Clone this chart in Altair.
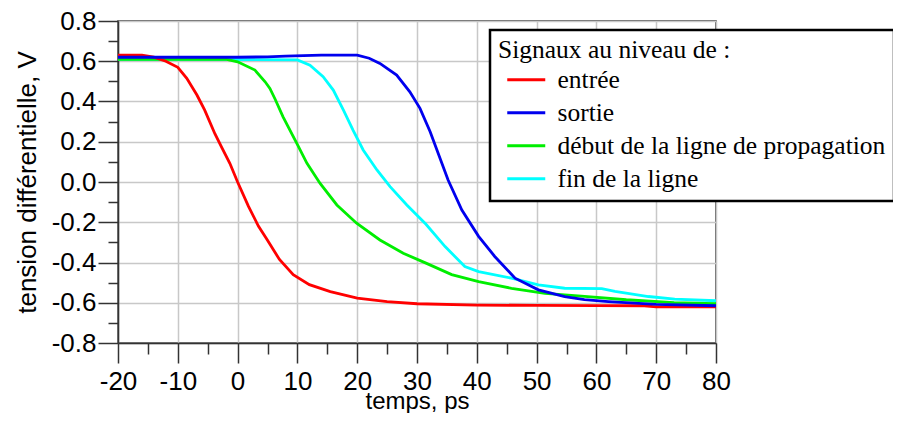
import altair as alt
import pandas as pd

series_names = ["entrée", "sortie", "début de la ligne de propagation", "fin de la ligne"]
series_colors = ["#ff0000", "#0000ee", "#00ee00", "#00ffff"]
legend_title = "Signaux au niveau de :" + "\u00a0" * 30

# entrée (red)
t_entree = [-20, -16, -14, -12, -10, -8.5, -6.8, -5.5, -3.8, -2.7, -1.3, 0, 1.8, 3.5, 5, 7,
            9.3, 12, 15.5, 20, 25, 30, 40, 50, 60, 68, 70, 80]
v_entree = [0.63, 0.63, 0.62, 0.60, 0.57, 0.515, 0.432, 0.357, 0.24, 0.175, 0.093, 0.0, -0.12,
            -0.22, -0.29, -0.385, -0.46, -0.51, -0.545, -0.577, -0.594, -0.605, -0.612, -0.613,
            -0.614, -0.615, -0.62, -0.62]

# sortie (blue)
t_sortie = [-20, 0, 5, 8, 14, 20, 22, 23.8, 26.6, 28.8, 30.5, 32.2, 35.2, 37.5, 40.3, 43,
            46.4, 50.3, 54.7, 58, 62, 70, 80]
v_sortie = [0.62, 0.62, 0.622, 0.625, 0.63, 0.63, 0.615, 0.589, 0.531, 0.448, 0.366, 0.25,
            0.01, -0.139, -0.27, -0.37, -0.478, -0.536, -0.569, -0.585, -0.594, -0.608, -0.615]

# début de la ligne de propagation (green)
t_debut = [-20, -2, 0, 2.9, 4.6, 5.4, 6.3, 7.6, 9.9, 11.6, 13.8, 16.6, 19.9, 23.8, 27.7, 31.5,
           35.8, 40.3, 45.8, 51.4, 58, 65, 73, 80]
v_debut = [0.61, 0.61, 0.597, 0.556, 0.498, 0.465, 0.41, 0.324, 0.192, 0.093, -0.007, -0.114,
           -0.205, -0.288, -0.354, -0.403, -0.46, -0.495, -0.528, -0.553, -0.568, -0.585,
           -0.599, -0.605]

# fin de la ligne (cyan)
t_fin = [-20, 10, 12.1, 14.3, 16, 17.7, 19.3, 21, 23.3, 25.5, 28.3, 31.5, 34.7, 38, 40.3,
         45.8, 50.3, 54.7, 60.9, 63.1, 68.7, 73.1, 80]
v_fin = [0.61, 0.607, 0.58, 0.523, 0.457, 0.357, 0.258, 0.159, 0.06, -0.023, -0.114, -0.21,
         -0.321, -0.42, -0.445, -0.478, -0.511, -0.528, -0.53, -0.544, -0.569, -0.582, -0.59]

x_ticks = [-20, -15, -10, -5, 0, 5, 10, 15, 20, 25, 30, 35, 40, 45, 50, 55, 60, 65, 70, 75, 80]
y_ticks = [-0.8, -0.7, -0.6, -0.5, -0.4, -0.3, -0.2, -0.1, 0.0, 0.1, 0.2, 0.3, 0.4, 0.5, 0.6,
           0.7, 0.8]

series_data = {
    "fin de la ligne": (t_fin, v_fin),
    "début de la ligne de propagation": (t_debut, v_debut),
    "entrée": (t_entree, v_entree),
    "sortie": (t_sortie, v_sortie),
}
rows = []
for name, (ts, vs) in series_data.items():
    for t, v in zip(ts, vs):
        rows.append({"serie": name, "t": t, "v": v})
df = pd.DataFrame(rows)

x_major = "datum.value % 10 === 0"
y_major = "round(datum.value * 10) % 2 === 0"

x_axis = alt.Axis(
    values=x_ticks,
    title="temps, ps",
    labelExpr=f"{x_major} ? (datum.value < 0 ? '-' : '') + abs(datum.value) : ''",
    tickSize={"condition": {"test": x_major, "value": 20}, "value": 11},
    gridOpacity={"condition": {"test": x_major, "value": 1}, "value": 0},
    labelFlush=False,
    labelOverlap=False,
    labelPadding=5,
    titlePadding=-5,
    titleFontSize=24,
)
y_axis = alt.Axis(
    values=y_ticks,
    title="tension différentielle, V",
    labelExpr=f"{y_major} ? (datum.value < -0.001 ? '-' : '') + format(abs(datum.value), '.1f') : ''",
    tickSize={"condition": {"test": y_major, "value": 20}, "value": 10},
    gridOpacity={"condition": {"test": y_major, "value": 1}, "value": 0},
    labelOverlap=False,
    labelPadding=2,
    titlePadding=11,
)

legend = alt.Legend(
    title=legend_title,
    orient="none",
    legendX=372,
    legendY=9,
    titleFont="Liberation Serif",
    titleFontSize=25.5,
    titleFontWeight="normal",
    titleColor="black",
    titlePadding=3.5,
    titleLimit=1000,
    labelFont="Liberation Serif",
    labelFontSize=25.5,
    labelColor="black",
    labelLimit=1000,
    symbolType="M-2,0H2",
    symbolSize=361,
    symbolStrokeWidth=3,
    symbolOffset=15.5,
    labelOffset=18.5,
    rowPadding=6,
    padding=8,
    strokeColor="black",
    fillColor="white",
)

chart = (
    alt.Chart(df)
    .mark_line(strokeWidth=2.8)
    .encode(
        x=alt.X("t:Q", scale=alt.Scale(domain=[-20, 80], nice=False), axis=x_axis),
        y=alt.Y("v:Q", scale=alt.Scale(domain=[-0.8, 0.8], nice=False), axis=y_axis),
        color=alt.Color("serie:N", scale=alt.Scale(domain=series_names, range=series_colors),
                        legend=legend),
    )
    .properties(
        width=598,
        height=322,
        padding={"left": 110, "top": 13, "right": 177, "bottom": 70},
        autosize=alt.AutoSizeParams(type="none"),
    )
    .configure_view(stroke="#333333", strokeWidth=1.5)
    .configure_axis(
        domainColor="#333333", domainWidth=1.5,
        tickColor="#333333", tickWidth=1.5,
        gridColor="#c8c8c8", gridWidth=1.5,
        labelFont="Liberation Sans", labelFontSize=26, labelColor="black",
        titleFont="Liberation Sans", titleFontSize=26, titleFontWeight="normal",
        titleColor="black",
    )
    .configure_legend(strokeWidth=2.5)
)

chart.save("out.html", embed_options={"renderer": "svg", "actions": False})
